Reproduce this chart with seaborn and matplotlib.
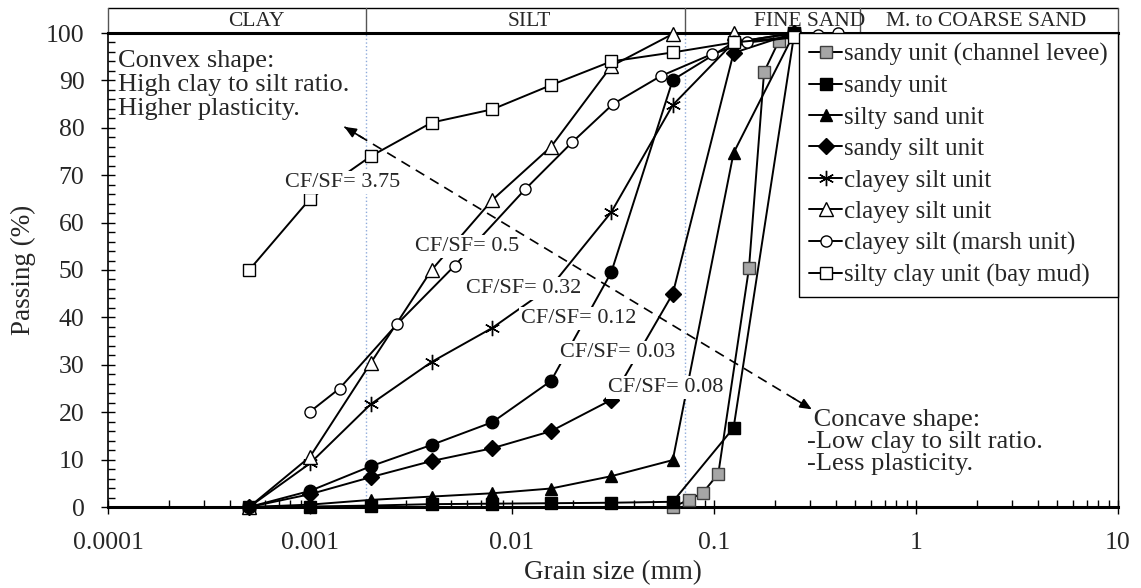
import numpy as np
import pandas as pd
import matplotlib
matplotlib.use("Agg")
import matplotlib.pyplot as plt
from matplotlib.lines import Line2D
from matplotlib.ticker import MultipleLocator, LogLocator, FixedLocator, NullFormatter
import seaborn as sns

sns.set_style("ticks")
plt.rcParams['font.family'] = ['Liberation Serif', 'DejaVu Serif']

# ---------------- data ----------------
phi_sizes = [0.0005, 0.001, 0.002, 0.004, 0.008, 0.0156, 0.031, 0.0625, 0.125, 0.25]

levee_size = [0.0625, 0.075, 0.088, 0.105, 0.149, 0.177, 0.21, 0.25]
levee_pass = [0, 1.5, 3.0, 7.0, 50.4, 91.8, 98.4, 100]

sandy_size = phi_sizes
sandy_pass = [0, 0.1, 0.3, 0.6, 0.7, 0.8, 0.9, 1.1, 16.7, 100]

silty_sand_size = phi_sizes
silty_sand_pass = [0, 0.5, 1.5, 2.2, 2.9, 3.9, 6.5, 9.9, 74.7, 100]

sandy_silt_size = phi_sizes
sandy_silt_pass = [0, 2.7, 6.3, 9.7, 12.4, 16.0, 22.6, 45.0, 95.8, 100]

clayey_silt_a_size = phi_sizes
clayey_silt_a_pass = [0, 9.2, 21.7, 30.6, 37.8, 46.5, 62.2, 84.8, 98.0, 100]

clayey_silt_b_size = phi_sizes[:9]
clayey_silt_b_pass = [0, 10.6, 30.4, 50.0, 64.8, 76.0, 93.0, 99.8, 100]

marsh_size = [0.001, 0.0014, 0.0027, 0.0052, 0.0116, 0.0198, 0.0316, 0.0544,
              0.0972, 0.146, 0.328, 0.41]
marsh_pass = [20.1, 25.0, 38.6, 50.9, 67.0, 76.9, 85.0, 90.9, 95.5, 98.0, 99.6, 100]

bay_mud_size = phi_sizes
bay_mud_pass = [50, 65, 74, 81.1, 83.9, 89, 94, 95.9, 98, 99.2]

extra_size = phi_sizes
extra_pass = [0, 3.4, 8.6, 13.1, 17.9, 26.6, 49.5, 90.1, 98.0, 100]

labels = ["sandy unit (channel levee)", "sandy unit", "silty sand unit",
          "sandy silt unit", "clayey silt unit", "clayey silt unit",
          "clayey silt (marsh unit)", "silty clay unit (bay mud)"]

cfsf_text = ["CF/SF= 3.75", "CF/SF= 0.5", "CF/SF= 0.32", "CF/SF= 0.12",
             "CF/SF= 0.03", "CF/SF= 0.08"]
cfsf_x = [0.001447, 0.0060, 0.01146, 0.02143, 0.0334, 0.0575]
cfsf_y = [68.4, 54.9, 46.2, 39.7, 32.7, 25.3]

zones = ["CLAY", "SILT", "FINE SAND", "M. to COARSE SAND"]
zone_x = [0.000545, 0.01214, 0.2965, 2.22]
zone_bounds = [0.0001, 0.0019, 0.0715, 0.53, 10]

arrow_x = [0.00148, 0.305]
arrow_y = [80.2, 20.6]

xtick_vals = [0.0001, 0.001, 0.01, 0.1, 1, 10]
xtick_labels = ["0.0001", "0.001", "0.01", "0.1", "1", "10"]

# ---------------- figure ----------------
fig = plt.figure(figsize=(11.41, 5.88), dpi=100)
ax = fig.add_axes([108/1141, 1-507/588, (1118-108)/1141, (507-33)/588])
ax.set_xscale('log')

asterisk = (6, 2, 0)
styles = [
    dict(marker='s', mfc='#a6a6a6', mec='#404040', ms=8.5),
    dict(marker='s', mfc='black', mec='black', ms=8.5),
    dict(marker='^', mfc='black', mec='black', ms=9),
    dict(marker='D', mfc='black', mec='black', ms=8),
    dict(marker=asterisk, mfc='black', mec='black', ms=11),
    dict(marker='^', mfc='white', mec='black', ms=9.5),
    dict(marker='o', mfc='white', mec='black', ms=8),
    dict(marker='s', mfc='white', mec='black', ms=9),
]
series = [(levee_size, levee_pass), (sandy_size, sandy_pass),
          (silty_sand_size, silty_sand_pass), (sandy_silt_size, sandy_silt_pass),
          (clayey_silt_a_size, clayey_silt_a_pass),
          (clayey_silt_b_size, clayey_silt_b_pass),
          (marsh_size, marsh_pass), (bay_mud_size, bay_mud_pass)]

def draw(x, y, st, z):
    sns.lineplot(x=x, y=y, ax=ax, marker=st['marker'], markersize=st['ms'],
                 markerfacecolor=st['mfc'], markeredgecolor=st['mec'],
                 markeredgewidth=1.0, color='black', linewidth=1.4,
                 sort=False, estimator=None, legend=False, zorder=z)

for i, ((x, y), st) in enumerate(zip(series, styles)):
    draw(x, y, st, 3 + i * 0.01)
draw(extra_size, extra_pass, dict(marker='o', mfc='black', mec='black', ms=9), 3.05)

for ln in ax.lines:
    ln.set_clip_on(False)

# dotted boundaries
for xv in zone_bounds[1:3]:
    ax.plot([xv, xv], [0, 100], color='#8eaadb', ls=':', lw=1.0, zorder=1)

ax.set_xlim(1e-4, 10)
ax.set_ylim(0, 100)

# header
trans = ax.get_xaxis_transform()
hy = 1 + 25/474
ax.plot([1e-4, 10], [hy, hy], transform=trans, color='black', lw=1.0, clip_on=False)
for xv in zone_bounds:
    ax.plot([xv, xv], [1, hy], transform=trans, color='#555555', lw=1.0, clip_on=False)
for t, xv in zip(zones, zone_x):
    ax.text(xv, 1 + 11.5/474, t, transform=trans, ha='center', va='center', fontsize=15.5)

# CF/SF labels
for t, xv, yv in zip(cfsf_text, cfsf_x, cfsf_y):
    ax.text(xv, yv, t, ha='center', va='center', fontsize=16, zorder=6,
            bbox=dict(fc='white', ec='none', pad=1.5))

# dashed double arrow: dashed shaft + solid heads
ax.plot(arrow_x, arrow_y, color='black', lw=1.2, ls=(0, (6, 4)), zorder=2)
lx = np.log10(arrow_x)
for a, b in [(0, 1), (1, 0)]:
    t = 0.04
    px = 10 ** (lx[a] + (lx[b] - lx[a]) * t)
    py = arrow_y[a] + (arrow_y[b] - arrow_y[a]) * t
    ax.annotate('', xy=(arrow_x[a], arrow_y[a]), xytext=(px, py),
                arrowprops=dict(arrowstyle='-|>,head_length=0.7,head_width=0.3',
                                lw=1.2, color='black', shrinkA=0, shrinkB=0),
                zorder=2)

ax.text(0.0099, 0.964, "Convex shape:\nHigh clay to silt ratio.\nHigher plasticity.",
        transform=ax.transAxes, ha='left', va='top', fontsize=19, linespacing=1.12, zorder=7)
ax.text(0.692, 0.207, " Concave shape:\n-Low clay to silt ratio.\n-Less plasticity.",
        transform=ax.transAxes, ha='left', va='top', fontsize=19, linespacing=1.0, zorder=7)

# ticks
ax.set_yticks(np.arange(0, 101, 10))
ax.yaxis.set_minor_locator(MultipleLocator(2))
ax.xaxis.set_major_locator(FixedLocator(xtick_vals))
ax.set_xticklabels(xtick_labels)
ax.xaxis.set_minor_locator(LogLocator(base=10, subs=np.arange(2, 10)))
ax.xaxis.set_minor_formatter(NullFormatter())
ax.tick_params(axis='both', which='major', direction='inout', length=10, width=1.0,
               labelsize=18.5, color='black')
ax.tick_params(axis='y', which='major', pad=12)
ax.tick_params(axis='x', which='major', pad=13)
ax.tick_params(axis='both', which='minor', direction='in', length=5, width=1.0, color='black')

ax.set_xlabel("Grain size (mm)", fontsize=19.5)
ax.set_ylabel("Passing (%)", fontsize=19.5)
ax.xaxis.set_label_coords(0.5, -0.113)
ax.yaxis.set_label_coords(-0.071, 0.5)

for s in ['top', 'bottom']:
    ax.spines[s].set_linewidth(2.2)
ax.spines['left'].set_linewidth(1.2)
ax.spines['right'].set_linewidth(1.0)
for s in ax.spines.values():
    s.set_color('black')
    s.set_zorder(2.5)

# legend
handles = [Line2D([], [], color='black', lw=1.4, marker=st['marker'], markersize=st['ms'],
                  markerfacecolor=st['mfc'], markeredgecolor=st['mec'], markeredgewidth=1.0)
           for st in styles]
leg = ax.legend(handles, labels, loc='upper right', bbox_to_anchor=(1, 1),
                borderaxespad=0, frameon=True, fancybox=False, framealpha=1,
                edgecolor='black', fontsize=18, handlelength=1.3, handletextpad=0.1,
                labelspacing=0.355, borderpad=0.4)
leg.get_frame().set_linewidth(1.0)
leg.set_zorder(10)

fig.savefig("out.png", dpi=100)
